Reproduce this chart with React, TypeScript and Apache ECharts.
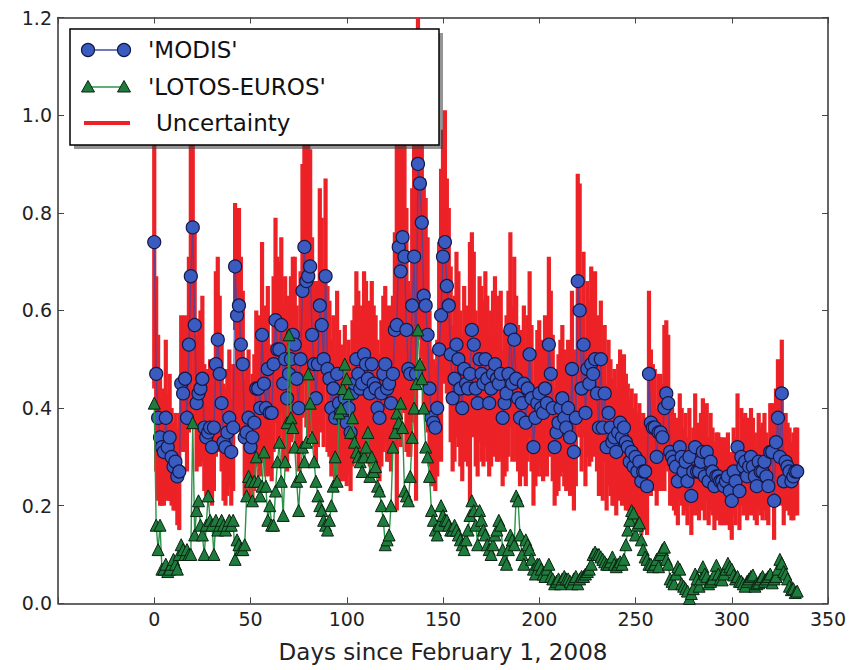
import React, { useEffect, useRef } from "react";
import * as echarts from "echarts";

// Daily observations starting at day 0 (February 1, 2008)
const firstDay = 0;

const modisAod = [
  0.74, 0.47, 0.38, 0.34, 0.32, 0.31, 0.38, 0.32, 0.34, 0.30,
  0.28, 0.29, 0.26, 0.27, 0.45, 0.43, 0.46, 0.38, 0.53, 0.67,
  0.77, 0.57, 0.41, 0.43, 0.44, 0.46, 0.36, 0.34, 0.35, 0.36,
  0.32, 0.36, 0.49, 0.54, 0.47, 0.41, 0.33, 0.32, 0.35, 0.38,
  0.31, 0.36, 0.69, 0.59, 0.61, 0.53, 0.49, 0.34, 0.35, 0.38,
  0.32, 0.34, 0.37, 0.44, 0.44, 0.40, 0.55, 0.45, 0.40, 0.48,
  0.39, 0.39, 0.49, 0.58, 0.52, 0.52, 0.57, 0.45, 0.50, 0.42,
  0.47, 0.50, 0.55, 0.53, 0.46, 0.40, 0.50, 0.64, 0.73, 0.66,
  0.67, 0.69, 0.55, 0.49, 0.42, 0.49, 0.61, 0.57, 0.50, 0.67,
  0.48, 0.46, 0.40, 0.44, 0.38, 0.47, 0.41, 0.39, 0.38, 0.42,
  0.37, 0.40, 0.35, 0.43, 0.45, 0.50, 0.47, 0.44, 0.45, 0.51,
  0.49, 0.46, 0.43, 0.49, 0.45, 0.44, 0.40, 0.38, 0.43, 0.47,
  0.49, 0.44, 0.45, 0.41, 0.47, 0.56, 0.57, 0.73, 0.68, 0.75,
  0.71, 0.56, 0.48, 0.47, 0.61, 0.71, 0.47, 0.90, 0.86, 0.78,
  0.63, 0.61, 0.55, 0.44, 0.38, 0.37, 0.36, 0.40, 0.52, 0.59,
  0.71, 0.74, 0.65, 0.61, 0.51, 0.42, 0.46, 0.53, 0.50, 0.44,
  0.40, 0.48, 0.45, 0.44, 0.47, 0.56, 0.53, 0.44, 0.41, 0.50,
  0.47, 0.45, 0.50, 0.46, 0.41, 0.44, 0.47, 0.49, 0.46, 0.45,
  0.47, 0.38, 0.41, 0.43, 0.47, 0.56, 0.45, 0.54, 0.46, 0.42,
  0.38, 0.41, 0.45, 0.37, 0.44, 0.51, 0.42, 0.32, 0.38, 0.41,
  0.43, 0.40, 0.39, 0.44, 0.41, 0.53, 0.47, 0.40, 0.32, 0.35,
  0.37, 0.40, 0.42, 0.38, 0.36, 0.40, 0.34, 0.48, 0.31, 0.38,
  0.66, 0.60, 0.44, 0.53, 0.39, 0.48, 0.45, 0.49, 0.47, 0.50,
  0.43, 0.36, 0.50, 0.36, 0.43, 0.32, 0.39, 0.36, 0.33, 0.34,
  0.31, 0.35, 0.37, 0.34, 0.36, 0.33, 0.32, 0.29, 0.31, 0.28,
  0.30, 0.27, 0.29, 0.25, 0.27, 0.27, 0.24, 0.47, 0.37, 0.36,
  0.36, 0.30, 0.35, 0.35, 0.34, 0.40, 0.43, 0.41, 0.31, 0.30,
  0.29, 0.28, 0.25, 0.32, 0.30, 0.27, 0.29, 0.25, 0.30, 0.22,
  0.27, 0.32, 0.27, 0.27, 0.29, 0.31, 0.26, 0.31, 0.25, 0.29,
  0.27, 0.24, 0.26, 0.26, 0.25, 0.25, 0.24, 0.25, 0.26, 0.23,
  0.21, 0.27, 0.25, 0.32, 0.23, 0.30, 0.28, 0.29, 0.26, 0.28,
  0.30, 0.28, 0.26, 0.24, 0.29, 0.27, 0.27, 0.29, 0.26, 0.24,
  0.31, 0.31, 0.21, 0.33, 0.38, 0.30, 0.43, 0.25, 0.29, 0.28,
  0.27, 0.25, 0.26, 0.27, 0.27,
];

// Half-width of the MODIS uncertainty bar for each day
const modisUncertainty = [
  0.30, 0.20, 0.17, 0.14, 0.12, 0.11, 0.16, 0.11, 0.13, 0.10,
  0.09, 0.10, 0.10, 0.12, 0.14, 0.12, 0.13, 0.11, 0.18, 0.30,
  0.24, 0.20, 0.14, 0.15, 0.16, 0.17, 0.13, 0.12, 0.13, 0.14,
  0.12, 0.13, 0.19, 0.17, 0.16, 0.14, 0.12, 0.12, 0.13, 0.14,
  0.11, 0.13, 0.13, 0.22, 0.20, 0.18, 0.15, 0.12, 0.13, 0.14,
  0.12, 0.13, 0.14, 0.16, 0.15, 0.14, 0.19, 0.16, 0.14, 0.17,
  0.13, 0.14, 0.18, 0.21, 0.19, 0.18, 0.18, 0.16, 0.17, 0.15,
  0.16, 0.17, 0.16, 0.18, 0.15, 0.13, 0.18, 0.26, 0.28, 0.30,
  0.33, 0.24, 0.20, 0.17, 0.14, 0.17, 0.24, 0.22, 0.18, 0.20,
  0.17, 0.16, 0.14, 0.15, 0.13, 0.17, 0.15, 0.14, 0.13, 0.15,
  0.13, 0.14, 0.12, 0.15, 0.16, 0.18, 0.17, 0.16, 0.16, 0.17,
  0.17, 0.16, 0.15, 0.17, 0.16, 0.15, 0.14, 0.13, 0.15, 0.16,
  0.16, 0.15, 0.16, 0.14, 0.16, 0.20, 0.38, 0.32, 0.36, 0.33,
  0.32, 0.25, 0.18, 0.17, 0.24, 0.32, 0.26, 0.36, 0.30, 0.28,
  0.24, 0.22, 0.20, 0.16, 0.14, 0.13, 0.13, 0.14, 0.22, 0.30,
  0.26, 0.27, 0.22, 0.20, 0.18, 0.15, 0.17, 0.19, 0.18, 0.16,
  0.15, 0.17, 0.16, 0.16, 0.27, 0.20, 0.19, 0.16, 0.15, 0.17,
  0.18, 0.17, 0.18, 0.17, 0.15, 0.16, 0.17, 0.18, 0.17, 0.16,
  0.17, 0.14, 0.15, 0.16, 0.17, 0.20, 0.16, 0.17, 0.17, 0.15,
  0.14, 0.15, 0.16, 0.13, 0.15, 0.17, 0.15, 0.12, 0.14, 0.15,
  0.15, 0.14, 0.14, 0.15, 0.15, 0.18, 0.17, 0.15, 0.12, 0.13,
  0.14, 0.14, 0.15, 0.14, 0.13, 0.14, 0.12, 0.16, 0.12, 0.14,
  0.22, 0.26, 0.17, 0.19, 0.15, 0.18, 0.17, 0.20, 0.17, 0.18,
  0.16, 0.14, 0.12, 0.15, 0.14, 0.13, 0.15, 0.14, 0.13, 0.14,
  0.13, 0.14, 0.15, 0.14, 0.15, 0.14, 0.13, 0.13, 0.13, 0.12,
  0.13, 0.12, 0.12, 0.11, 0.12, 0.11, 0.10, 0.17, 0.15, 0.13,
  0.12, 0.10, 0.12, 0.12, 0.11, 0.17, 0.15, 0.14, 0.11, 0.10,
  0.10, 0.10, 0.09, 0.11, 0.10, 0.09, 0.10, 0.09, 0.10, 0.08,
  0.09, 0.11, 0.09, 0.10, 0.10, 0.11, 0.09, 0.10, 0.09, 0.10,
  0.09, 0.09, 0.09, 0.09, 0.09, 0.09, 0.08, 0.09, 0.09, 0.08,
  0.08, 0.09, 0.09, 0.11, 0.08, 0.10, 0.10, 0.10, 0.09, 0.10,
  0.10, 0.10, 0.09, 0.08, 0.10, 0.09, 0.10, 0.10, 0.09, 0.08,
  0.10, 0.10, 0.08, 0.11, 0.12, 0.10, 0.11, 0.09, 0.10, 0.09,
  0.09, 0.08, 0.09, 0.09, 0.09,
];

const lotosAod = [
  0.41, 0.16, 0.11, 0.16, 0.07, 0.07, 0.08, 0.065, 0.07, 0.08,
  0.09, 0.08, 0.07, 0.10, 0.12, 0.11, 0.10, 0.11, 0.10, 0.10,
  0.37, 0.14, 0.19, 0.21, 0.16, 0.14, 0.10, 0.16, 0.22, 0.17,
  0.16, 0.10, 0.17, 0.15, 0.16, 0.17, 0.16, 0.15, 0.16, 0.17,
  0.16, 0.17, 0.09, 0.13, 0.12, 0.11, 0.11, 0.12, 0.22, 0.26,
  0.25, 0.21, 0.25, 0.30, 0.25, 0.22, 0.24, 0.31, 0.24, 0.17,
  0.20, 0.16, 0.16, 0.23, 0.29, 0.33, 0.25, 0.18, 0.29, 0.37,
  0.55, 0.38, 0.36, 0.32, 0.25, 0.19, 0.26, 0.32, 0.29, 0.33,
  0.47, 0.41, 0.34, 0.29, 0.25, 0.22, 0.20, 0.19, 0.17, 0.16,
  0.15, 0.17, 0.20, 0.24, 0.30, 0.25, 0.39, 0.40, 0.44, 0.49,
  0.46, 0.43, 0.35, 0.38, 0.33, 0.31, 0.30, 0.29, 0.27, 0.30,
  0.32, 0.35, 0.26, 0.30, 0.27, 0.28, 0.24, 0.23, 0.20, 0.17,
  0.12, 0.13, 0.14, 0.20, 0.32, 0.35, 0.39, 0.37, 0.41, 0.36,
  0.23, 0.22, 0.21, 0.26, 0.34, 0.40, 0.45, 0.56, 0.49, 0.46,
  0.40, 0.32, 0.30, 0.26, 0.19, 0.17, 0.15, 0.14, 0.16, 0.20,
  0.18, 0.17, 0.17, 0.16, 0.15, 0.15, 0.16, 0.15, 0.14, 0.13,
  0.12, 0.11, 0.13, 0.15, 0.18, 0.21, 0.19, 0.16, 0.12, 0.19,
  0.17, 0.15, 0.14, 0.12, 0.11, 0.10, 0.12, 0.14, 0.15, 0.17,
  0.16, 0.11, 0.09, 0.08, 0.11, 0.14, 0.13, 0.12, 0.22, 0.21,
  0.14, 0.10, 0.08, 0.13, 0.12, 0.11, 0.09, 0.07, 0.06, 0.08,
  0.08, 0.07, 0.06, 0.055, 0.07, 0.08, 0.055, 0.05, 0.04, 0.045,
  0.05, 0.04, 0.05, 0.055, 0.05, 0.05, 0.045, 0.04, 0.05, 0.055,
  0.04, 0.05, 0.055, 0.055, 0.06, 0.065, 0.07, 0.08, 0.10, 0.105,
  0.10, 0.10, 0.095, 0.09, 0.085, 0.08, 0.08, 0.085, 0.095, 0.08,
  0.075, 0.08, 0.085, 0.08, 0.09, 0.12, 0.15, 0.17, 0.19, 0.185,
  0.14, 0.16, 0.165, 0.13, 0.11, 0.095, 0.09, 0.08, 0.08, 0.075,
  0.08, 0.09, 0.075, 0.10, 0.11, 0.115, 0.09, 0.08, 0.05, 0.045,
  0.04, 0.06, 0.075, 0.07, 0.04, 0.035, 0.03, 0.025, 0.01, 0.02,
  0.03, 0.06, 0.05, 0.035, 0.05, 0.075, 0.06, 0.055, 0.04, 0.045,
  0.05, 0.06, 0.078, 0.06, 0.05, 0.048, 0.06, 0.07, 0.082, 0.075,
  0.07, 0.058, 0.05, 0.055, 0.045, 0.045, 0.04, 0.035, 0.045, 0.05,
  0.055, 0.058, 0.035, 0.04, 0.042, 0.05, 0.055, 0.045, 0.05, 0.055,
  0.06, 0.042, 0.05, 0.055, 0.07, 0.09, 0.082, 0.065, 0.06, 0.05,
  0.035, 0.028, 0.03, 0.022, 0.025,
];

const xMin = -50;
const xMax = 350;
const xStep = 50;
const yMin = 0;
const yMax = 1.2;
const yStep = 0.2;
const xAxisTitle = "Days since February 1, 2008";
const legendLabels = ["'MODIS'", "'LOTOS-EUROS'", "Uncertainty"];

const FONT = "DejaVu Sans";
const RED = "#ec2227";
const BLUE_FILL = "#3a5bbf";
const BLUE_EDGE = "#141848";
const GREEN_FILL = "#1e7c3c";
const GREEN_EDGE = "#0b2412";

export default function App() {
  const ref = useRef<HTMLDivElement>(null);

  useEffect(() => {
    document.body.style.margin = "0";
    const chart = echarts.init(ref.current as HTMLDivElement, null, { renderer: "svg" });

    const modisData = modisAod.map((v, i) => [firstDay + i, v]);
    const lotosData = lotosAod.map((v, i) => [firstDay + i, v]);
    const uncData = modisAod.map((v, i) => [
      firstDay + i,
      v - modisUncertainty[i],
      v + modisUncertainty[i],
    ]);

    const axisLine = { show: true, onZero: false, lineStyle: { color: "#333", width: 1.5 } };
    const axisTick = { show: true, inside: true, length: 6, lineStyle: { color: "#444", width: 1 } };

    const legendX1 = 88;
    const legendX2 = 124;
    const tri = (cx: number, cy: number) => [
      [cx, cy - 6.5],
      [cx - 6.5, cy + 5],
      [cx + 6.5, cy + 5],
    ];

    chart.setOption({
      animation: false,
      backgroundColor: "#fff",
      grid: { left: 58, right: 34, top: 17.5, bottom: 66.7, containLabel: false },
      xAxis: [
        {
          type: "value",
          position: "bottom",
          min: xMin,
          max: xMax,
          interval: xStep,
          axisLine,
          axisTick,
          splitLine: { show: false },
          axisLabel: {
            margin: 6,
            fontSize: 19,
            color: "#222",
            fontFamily: FONT,
            formatter: (v: number) => (v === xMin ? "" : String(v)),
          },
          name: xAxisTitle,
          nameLocation: "middle",
          nameGap: 37,
          nameTextStyle: { fontSize: 23, color: "#222", fontFamily: FONT },
        },
        {
          type: "value",
          position: "top",
          min: xMin,
          max: xMax,
          interval: xStep,
          axisLine,
          axisTick,
          splitLine: { show: false },
          axisLabel: { show: false },
        },
      ],
      yAxis: [
        {
          type: "value",
          position: "left",
          min: yMin,
          max: yMax,
          interval: yStep,
          axisLine,
          axisTick,
          splitLine: { show: false },
          axisLabel: {
            margin: 6,
            fontSize: 19,
            color: "#222",
            fontFamily: FONT,
            formatter: (v: number) => v.toFixed(1),
          },
        },
        {
          type: "value",
          position: "right",
          min: yMin,
          max: yMax,
          interval: yStep,
          axisLine,
          axisTick,
          splitLine: { show: false },
          axisLabel: { show: false },
        },
      ],
      series: [
        {
          name: "Uncertainty",
          type: "custom",
          xAxisIndex: 0,
          yAxisIndex: 0,
          z: 1,
          silent: true,
          encode: { x: 0, y: [1, 2] },
          data: uncData,
          renderItem: (params: any, api: any) => {
            const x = api.value(0);
            const top = api.coord([x, api.value(2)]);
            const bot = api.coord([x, api.value(1)]);
            const w = 4.2;
            const rect = echarts.graphic.clipRectByRect(
              { x: top[0] - w / 2, y: top[1], width: w, height: bot[1] - top[1] },
              {
                x: params.coordSys.x,
                y: params.coordSys.y,
                width: params.coordSys.width,
                height: params.coordSys.height,
              }
            );
            if (!rect) return null;
            return { type: "rect", shape: rect, style: { fill: RED } };
          },
        },
        {
          name: "MODIS",
          type: "line",
          z: 2,
          silent: true,
          data: modisData,
          symbol: "circle",
          symbolSize: 13,
          showSymbol: true,
          itemStyle: { color: BLUE_FILL, borderColor: BLUE_EDGE, borderWidth: 1.2 },
          lineStyle: { color: "rgba(62,70,170,0.75)", width: 1.4 },
          emphasis: { disabled: true },
        },
        {
          name: "LOTOS-EUROS",
          type: "line",
          z: 3,
          silent: true,
          data: lotosData,
          symbol: "triangle",
          symbolSize: 12,
          showSymbol: true,
          itemStyle: { color: GREEN_FILL, borderColor: GREEN_EDGE, borderWidth: 1 },
          lineStyle: { color: "#2c9448", width: 1.4 },
          emphasis: { disabled: true },
        },
      ],
      graphic: [
        {
          type: "rect",
          z: 100,
          shape: { x: 74, y: 33, width: 369, height: 116 },
          style: { fill: "rgba(60,60,60,0.55)" },
        },
        {
          type: "rect",
          z: 101,
          shape: { x: 70, y: 29, width: 369, height: 116 },
          style: { fill: "#fff", stroke: "#000", lineWidth: 1.5 },
        },
        {
          type: "line",
          z: 102,
          shape: { x1: legendX1, y1: 50, x2: legendX2, y2: 50 },
          style: { stroke: "#3c4fa8", lineWidth: 1.5 },
        },
        {
          type: "circle",
          z: 103,
          shape: { cx: legendX1, cy: 50, r: 6.5 },
          style: { fill: BLUE_FILL, stroke: BLUE_EDGE, lineWidth: 1.2 },
        },
        {
          type: "circle",
          z: 103,
          shape: { cx: legendX2, cy: 50, r: 6.5 },
          style: { fill: BLUE_FILL, stroke: BLUE_EDGE, lineWidth: 1.2 },
        },
        {
          type: "line",
          z: 102,
          shape: { x1: legendX1, y1: 87, x2: legendX2, y2: 87 },
          style: { stroke: "#2c9448", lineWidth: 1.5 },
        },
        {
          type: "polygon",
          z: 103,
          shape: { points: tri(legendX1, 87) },
          style: { fill: GREEN_FILL, stroke: GREEN_EDGE, lineWidth: 1 },
        },
        {
          type: "polygon",
          z: 103,
          shape: { points: tri(legendX2, 87) },
          style: { fill: GREEN_FILL, stroke: GREEN_EDGE, lineWidth: 1 },
        },
        {
          type: "line",
          z: 102,
          shape: { x1: 84, y1: 123, x2: 130, y2: 123 },
          style: { stroke: RED, lineWidth: 4 },
        },
        {
          type: "text",
          z: 103,
          x: 148,
          y: 50,
          style: {
            text: legendLabels[0],
            fontSize: 23,
            fontFamily: FONT,
            fill: "#111",
            verticalAlign: "middle",
            align: "left",
          },
        },
        {
          type: "text",
          z: 103,
          x: 148,
          y: 87,
          style: {
            text: legendLabels[1],
            fontSize: 23,
            fontFamily: FONT,
            fill: "#111",
            verticalAlign: "middle",
            align: "left",
          },
        },
        {
          type: "text",
          z: 103,
          x: 156,
          y: 123,
          style: {
            text: legendLabels[2],
            fontSize: 23,
            fontFamily: FONT,
            fill: "#111",
            verticalAlign: "middle",
            align: "left",
          },
        },
      ],
    });

    return () => chart.dispose();
  }, []);

  return <div ref={ref} style={{ width: 862, height: 670 }} />;
}
